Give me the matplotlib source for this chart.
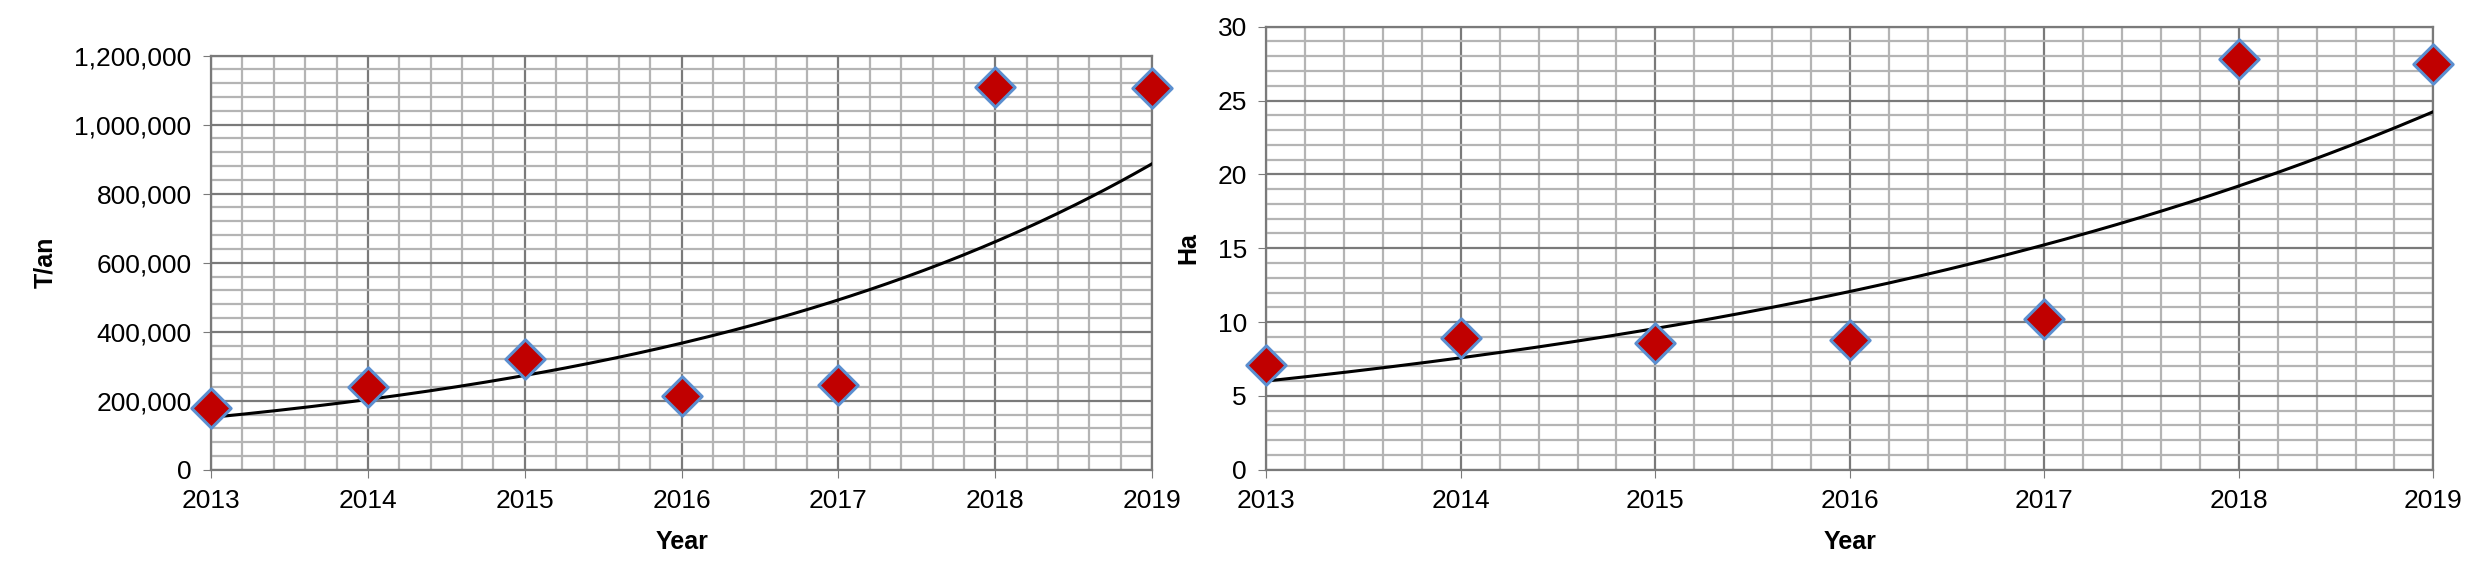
import numpy as np
import matplotlib.pyplot as plt
from matplotlib.ticker import FuncFormatter, MultipleLocator

plt.rcParams['font.family'] = ['Liberation Sans Narrow', 'Liberation Sans', 'DejaVu Sans']

years = [2013, 2014, 2015, 2016, 2017, 2018, 2019]
tonnes = [180000, 240000, 320000, 215000, 245000, 1110000, 1105000]
hectares = [7.1, 8.9, 8.6, 8.8, 10.2, 27.8, 27.5]

fig = plt.figure(figsize=(24.83, 5.68), dpi=100)
ax1 = fig.add_axes([0.085, 0.173, 0.379, 0.729])
ax2 = fig.add_axes([0.510, 0.173, 0.470, 0.780])


def draw(ax, y, ymax, ystep, ylabel, fmt):
    x = np.array(years, dtype=float)
    y = np.array(y, dtype=float)
    # exponential trend line (least squares on log values, like Excel)
    b, a = np.polyfit(x - x[0], np.log(y), 1)
    xx = np.linspace(x[0], x[-1], 200)
    ax.plot(xx, np.exp(a + b * (xx - x[0])), color='black', lw=2.2, zorder=3)
    ax.scatter(x, y, marker='D', s=400, color='#c00000', edgecolor='#5b8fd0',
               linewidth=2.2, zorder=4, clip_on=False)
    ax.set_xlim(years[0], years[-1])
    ax.set_ylim(0, ymax)
    ax.xaxis.set_major_locator(MultipleLocator(1))
    ax.xaxis.set_minor_locator(MultipleLocator(0.2))
    ax.yaxis.set_major_locator(MultipleLocator(ystep))
    ax.yaxis.set_minor_locator(MultipleLocator(ystep / 5))
    ax.yaxis.set_major_formatter(FuncFormatter(fmt))
    ax.grid(True, which='major', color='#7a7a7a', lw=1.6)
    ax.grid(True, which='minor', color='#b4b4b4', lw=1.6)
    ax.set_axisbelow(True)
    for s in ax.spines.values():
        s.set_color('#7a7a7a')
        s.set_linewidth(1.6)
    ax.tick_params(which='major', direction='out', length=6, color='#7a7a7a',
                   labelsize=19, pad=8)
    ax.tick_params(which='minor', length=0)
    ax.set_xlabel('Year', fontsize=18, fontweight='bold', labelpad=12)
    ax.set_ylabel(ylabel, fontsize=18, fontweight='bold', labelpad=12)


draw(ax1, tonnes, 1200000, 200000, 'T/an', lambda v, p: f'{v:,.0f}')
draw(ax2, hectares, 30, 5, 'Ha', lambda v, p: f'{v:.0f}')

fig.savefig('out.png', dpi=100)
